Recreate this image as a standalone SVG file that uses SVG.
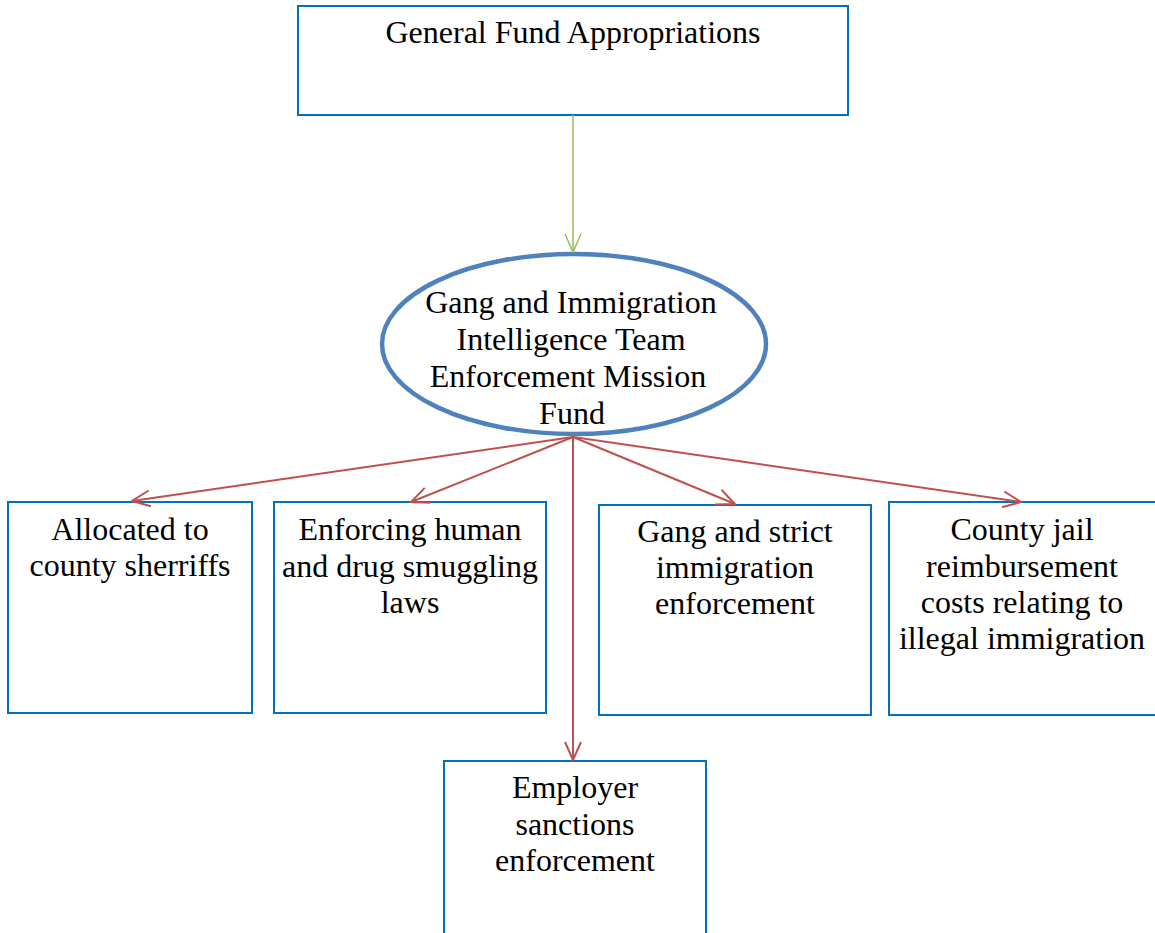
<svg xmlns="http://www.w3.org/2000/svg" width="1155" height="933" viewBox="0 0 1155 933">
<style>
.box{fill:#fff;stroke:#0070c0;stroke-width:2}
.ell{fill:#fff;stroke:#4f81bd;stroke-width:4.5}
.t{font-family:"Liberation Serif","Times New Roman",serif;font-size:32px;fill:#000;text-anchor:middle}
.red{stroke:#c0504d;stroke-width:2;fill:none}
.green{stroke:#9bbb59;stroke-width:1.5;fill:none}
</style>
<defs>
<marker id="ar" viewBox="0 0 20 20" markerWidth="20" markerHeight="20" markerUnits="userSpaceOnUse" refX="19" refY="10" orient="auto">
<path d="M1,2 L19,10 L1,18" fill="none" stroke="#c0504d" stroke-width="2"/>
</marker>
<marker id="ag" viewBox="0 0 20 20" markerWidth="20" markerHeight="20" markerUnits="userSpaceOnUse" refX="19" refY="10" orient="auto">
<path d="M1,2 L19,10 L1,18" fill="none" stroke="#9bbb59" stroke-width="1.5"/>
</marker>
</defs>
<rect width="1155" height="933" fill="#fff"/>
<g id="top">
<rect class="box" x="298" y="6" width="550" height="109"/>
<text class="t" x="573" y="43">General Fund Appropriations</text>
</g>
<g id="fund">
<ellipse class="ell" cx="574" cy="344" rx="192" ry="90"/>
<text class="t" x="571" y="313">Gang and Immigration</text>
<text class="t" x="571" y="350">Intelligence Team</text>
<text class="t" x="568" y="387">Enforcement Mission</text>
<text class="t" x="572" y="424">Fund</text>
</g>
<g id="b1">
<rect class="box" x="8" y="502" width="244" height="211"/>
<text class="t" x="130" y="540">Allocated to</text>
<text class="t" x="130" y="576">county sherriffs</text>
</g>
<g id="b2">
<rect class="box" x="274" y="502" width="272" height="211"/>
<text class="t" x="410" y="540">Enforcing human</text>
<text class="t" x="410" y="577">and drug smuggling</text>
<text class="t" x="410" y="613">laws</text>
</g>
<g id="b3">
<rect class="box" x="599" y="505" width="272" height="210"/>
<text class="t" x="735" y="542">Gang and strict</text>
<text class="t" x="735" y="578">immigration</text>
<text class="t" x="735" y="614">enforcement</text>
</g>
<g id="b4">
<rect class="box" x="889" y="502" width="270" height="213"/>
<text class="t" x="1022" y="540">County jail</text>
<text class="t" x="1022" y="577">reimbursement</text>
<text class="t" x="1022" y="613">costs relating to</text>
<text class="t" x="1022" y="649">illegal immigration</text>
</g>
<g id="b5">
<rect class="box" x="444" y="761" width="262" height="185"/>
<text class="t" x="575" y="798">Employer</text>
<text class="t" x="575" y="835">sanctions</text>
<text class="t" x="575" y="871">enforcement</text>
</g>
<g id="connectors">
<line class="green" x1="573" y1="115" x2="573" y2="252" marker-end="url(#ag)"/>
<line class="red" x1="573" y1="437" x2="132" y2="501" marker-end="url(#ar)"/>
<line class="red" x1="573" y1="437" x2="411" y2="502" marker-end="url(#ar)"/>
<line class="red" x1="573" y1="437" x2="573" y2="760" marker-end="url(#ar)"/>
<line class="red" x1="573" y1="437" x2="735" y2="504" marker-end="url(#ar)"/>
<line class="red" x1="573" y1="437" x2="1021" y2="502" marker-end="url(#ar)"/>
</g>
</svg>
